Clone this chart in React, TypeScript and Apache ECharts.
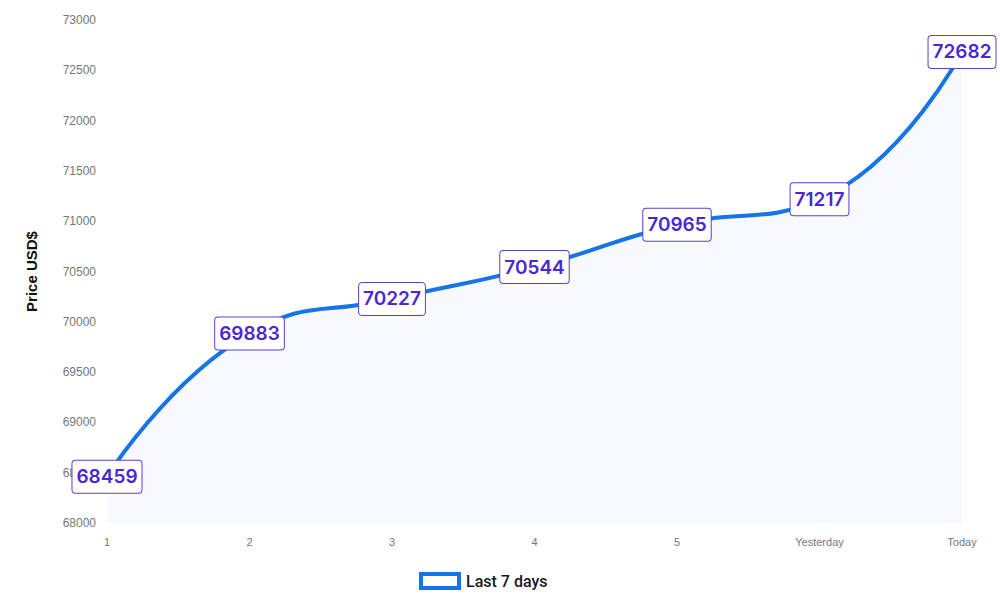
import React, { useEffect, useRef } from 'react';
import * as echarts from 'echarts';

const days = ['1', '2', '3', '4', '5', 'Yesterday', 'Today'];
const prices = [68459, 69883, 70227, 70544, 70965, 71217, 72682];
const yTicks = { min: 68000, max: 73000, interval: 500 };

const LINE_BLUE = '#1474e8';
const LABEL_PURPLE = '#4a27d2';

const App: React.FC = () => {
  const chartRef = useRef<HTMLDivElement>(null);

  useEffect(() => {
    if (!chartRef.current) return;
    const chart = echarts.init(chartRef.current, undefined, { renderer: 'svg' });

    const option: echarts.EChartsOption = {
      animation: false,
      backgroundColor: '#ffffff',
      grid: { left: 107, right: 38, top: 20, bottom: 77 },
      legend: {
        left: 419,
        bottom: 10,
        padding: 0,
        icon: 'rect',
        itemWidth: 38,
        itemHeight: 14,
        itemGap: 6,
        itemStyle: { color: '#ffffff', borderColor: LINE_BLUE, borderWidth: 4, opacity: 1 },
        textStyle: { color: '#15172a', fontSize: 16, fontFamily: 'Roboto', fontWeight: 500, padding: [0, 0, 0, 2] },
        data: ['Last 7 days'],
      },
      xAxis: {
        type: 'category',
        data: days,
        boundaryGap: false,
        axisLine: { show: false },
        axisTick: { show: false },
        axisLabel: { color: '#777', fontSize: 11, margin: 13, fontFamily: 'Liberation Sans' },
        splitLine: { show: false },
      },
      yAxis: {
        type: 'value',
        min: yTicks.min,
        max: yTicks.max,
        interval: yTicks.interval,
        name: 'Price USD$',
        nameLocation: 'middle',
        nameGap: 68,
        nameTextStyle: { color: '#111', fontSize: 15, fontWeight: 'bold', fontFamily: 'Liberation Sans' },
        axisLine: { show: false },
        axisTick: { show: false },
        splitLine: { show: false },
        axisLabel: {
          color: '#777',
          fontSize: 12,
          margin: 11,
          fontFamily: 'Liberation Sans',
          formatter: (v: number) => String(v),
        },
      },
      series: [
        {
          name: 'Last 7 days',
          type: 'line',
          data: prices,
          smooth: true,
          symbol: 'circle',
          symbolSize: 0,
          showSymbol: true,
          lineStyle: { color: LINE_BLUE, width: 4 },
          itemStyle: { color: LINE_BLUE },
          areaStyle: { color: '#f8f9ff', opacity: 1 },
          label: {
            show: true,
            position: 'inside',
            color: LABEL_PURPLE,
            fontSize: 19,
            fontWeight: 600,
            fontFamily: 'Inter',
            backgroundColor: '#ffffff',
            borderColor: '#5a3fd4',
            borderWidth: 1,
            borderRadius: 3,
            padding: [7, 4, 6, 4],
          },
        },
      ],
    };

    chart.setOption(option);

    return () => {
      chart.dispose();
    };
  }, []);

  return (
    <div
      ref={chartRef}
      style={{ position: 'absolute', left: 0, top: 0, width: '1000px', height: '600px' }}
    />
  );
};

export default App;
